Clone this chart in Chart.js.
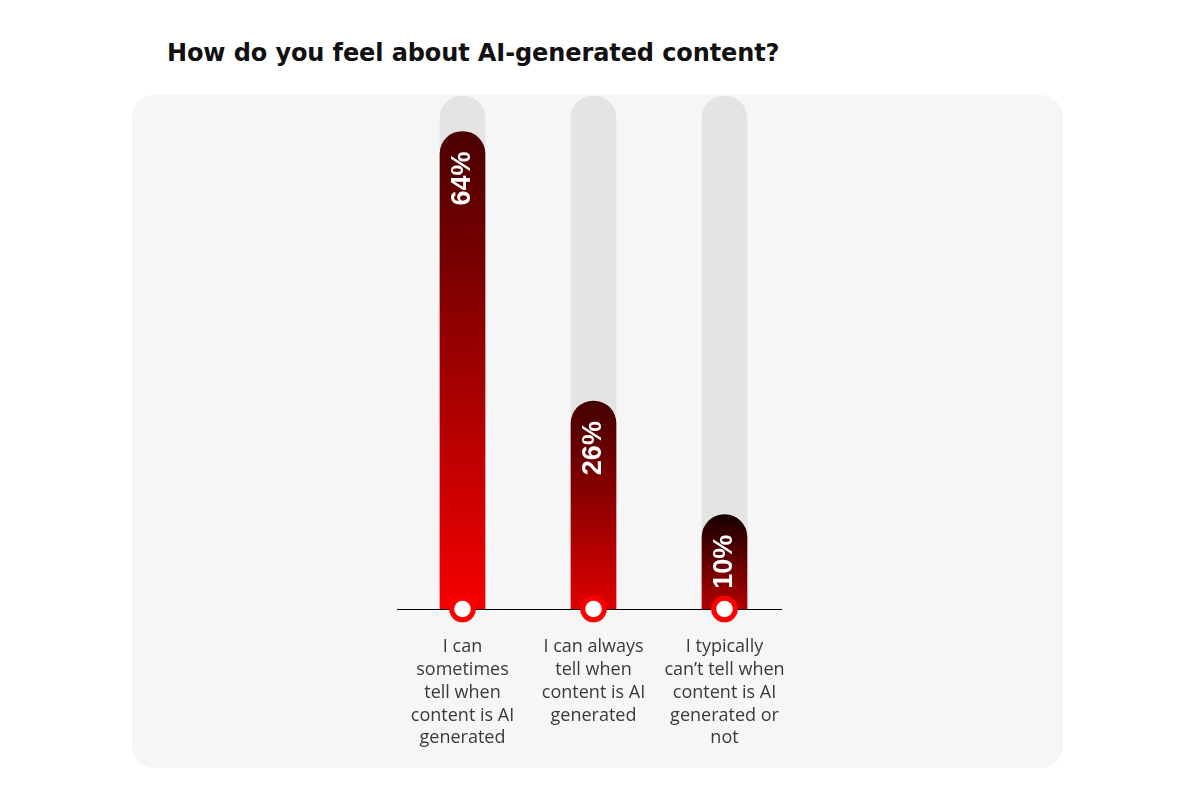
<!DOCTYPE html>
<html>
<head>
<meta charset="utf-8">
<title>How do you feel about AI-generated content?</title>
<script src="https://cdn.jsdelivr.net/npm/chart.js@4.4.1/dist/chart.umd.min.js"></script>
<style>
    html, body { margin: 0; padding: 0; background: #ffffff; }
    #page { position: relative; width: 1200px; height: 800px; overflow: hidden; }
    #card {
        position: absolute; left: 132px; top: 95px; width: 931px; height: 673px;
        background: #f6f6f6; border-radius: 22px;
    }
    h1 {
        position: absolute; left: 167px; top: 39px; margin: 0; line-height: 28px;
        font-family: "DejaVu Sans", sans-serif; font-weight: 700; font-size: 24px;
        color: #111111; letter-spacing: -0.1px;
    }
    #wrap { position: absolute; left: 0; top: 0; width: 1200px; height: 800px; }
</style>
</head>
<body>
<div id="page">
    <div id="card"></div>
    <h1>How do you feel about AI-generated content?</h1>
    <div id="wrap"><canvas id="barChart"></canvas></div>
</div>
<script>
// answers and share of respondents (%)
const categories = [
    ['I can', 'sometimes', 'tell when', 'content is AI', 'generated'],
    ['I can always', 'tell when', 'content is AI', 'generated'],
    ['I typically', 'can\u2019t tell when', 'content is AI', 'generated or', 'not']
]
const shares = [64, 26, 10]

// value range of the axis (grey tracks run to the top)
const yMin = -3.3
const yMax = 69

const gradTop = ['#4a0000', '#440000', '#160000']
const gradBottom = ['#f60000', '#e00000', '#b30000']

window.barFill = function (context) {
    const i = context.dataIndex
    const chart = context.chart
    const area = chart.chartArea
    if (!area) {
        return gradBottom[i]
    }
    const top = chart.scales.y.getPixelForValue(shares[i])
    const g = chart.ctx.createLinearGradient(0, top, 0, area.bottom)
    g.addColorStop(0, gradTop[i])
    g.addColorStop(1, gradBottom[i])
    return g
}

// baseline under the bars (stops a little short on the right, like the original)
const baseLine = {
    id: 'baseLine',
    beforeDatasetsDraw: function (chart) {
        const ctx = chart.ctx
        const area = chart.chartArea
        const y = Math.floor(area.bottom) + 0.5
        ctx.save()
        ctx.strokeStyle = '#000000'
        ctx.lineWidth = 1
        ctx.beginPath()
        ctx.moveTo(area.left, y)
        ctx.lineTo(area.right - 8, y)
        ctx.stroke()
        ctx.restore()
    }
}

// white value text turned on its side + the ring at the foot of every bar
const barDecor = {
    id: 'barDecor',
    afterDatasetsDraw: function (chart) {
        const ctx = chart.ctx
        const meta = chart.getDatasetMeta(1)
        const bottom = chart.chartArea.bottom
        meta.data.forEach(function (bar, i) {
            ctx.save()
            ctx.translate(bar.x, bar.y + 20)
            ctx.rotate(-Math.PI / 2)
            ctx.fillStyle = '#ffffff'
            ctx.font = 'bold 27px "Liberation Sans", Arial, sans-serif'
            ctx.textAlign = 'right'
            ctx.textBaseline = 'middle'
            ctx.fillText(shares[i] + '%', 0, 0)
            ctx.restore()

            ctx.save()
            ctx.beginPath()
            ctx.arc(bar.x, bottom, 13.3, 0, Math.PI * 2)
            ctx.fillStyle = '#ff0000'
            ctx.fill()
            ctx.beginPath()
            ctx.arc(bar.x, bottom, 8.3, 0, Math.PI * 2)
            ctx.fillStyle = '#ffffff'
            ctx.fill()
            ctx.restore()
        })
    }
}

window.drawBarChart = function () {
    const data = {
        labels: categories,
        datasets: [{
            label: 'track',
            data: categories.map(function () { return yMax }),
            backgroundColor: '#e4e4e4',
            base: yMin,
            barThickness: 45,
            borderRadius: 22.5,
            borderSkipped: 'start',
            grouped: false,
            order: 2
        }, {
            label: 'Share of respondents',
            data: shares,
            backgroundColor: window.barFill,
            base: yMin,
            barThickness: 45,
            borderRadius: 22.5,
            borderSkipped: 'start',
            grouped: false,
            order: 1
        }]
    }
    const config = {
        type: 'bar',
        data: data,
        options: {
            responsive: true,
            maintainAspectRatio: false,
            animation: false,
            layout: {
                padding: { left: 397, right: 410, top: 96, bottom: 0 }
            },
            plugins: {
                legend: { display: false },
                tooltip: { enabled: false }
            },
            scales: {
                x: {
                    grid: { display: false, drawTicks: false },
                    border: { display: false },
                    ticks: {
                        padding: 27,
                        color: '#3a3a3a',
                        maxRotation: 0,
                        autoSkip: false,
                        font: { family: '"Open Sans", sans-serif', size: 18, lineHeight: 1.26 }
                    },
                    afterFit: function (scale) {
                        scale.height = 191
                    }
                },
                y: {
                    display: false,
                    min: yMin,
                    max: yMax
                }
            }
        },
        plugins: [baseLine, barDecor]
    }
    new Chart(document.getElementById('barChart'), config)
}

window.drawBarChart()
</script>
</body>
</html>
